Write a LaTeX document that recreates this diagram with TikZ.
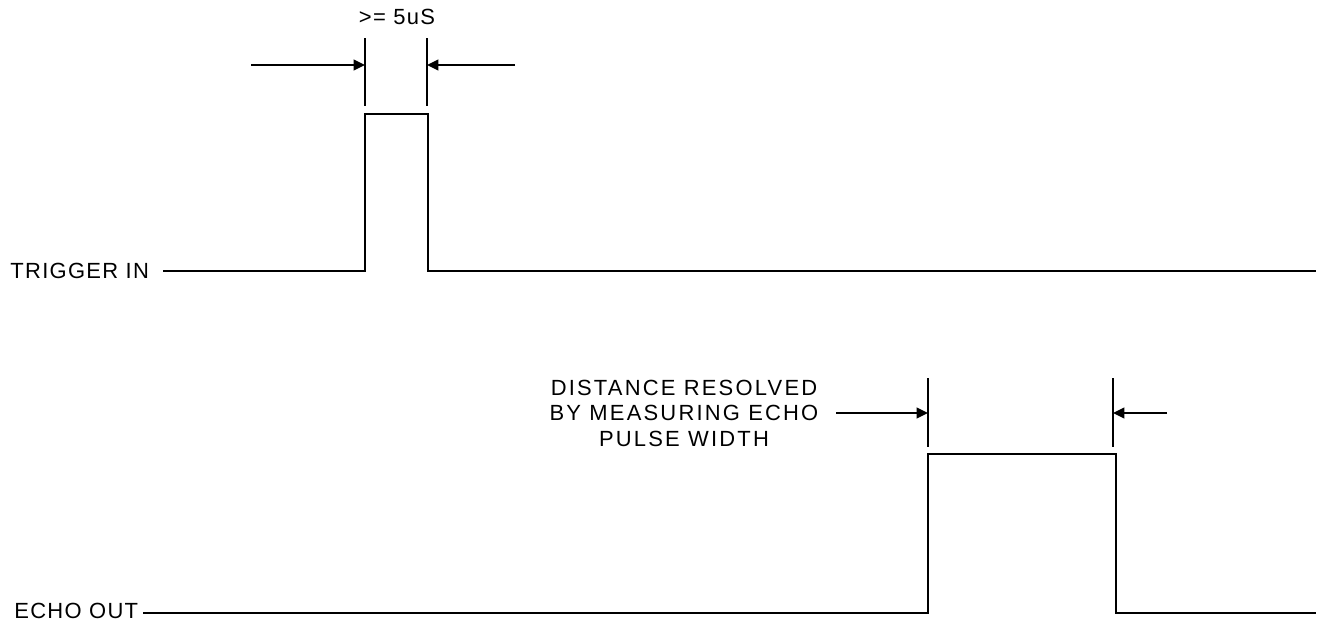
\documentclass[tikz,border=0pt]{standalone}
\usepackage{fontspec}
\setmainfont{Liberation Sans}
\usetikzlibrary{arrows.meta}
\begin{document}
\begin{tikzpicture}[x=0.02cm,y=-0.02cm,
  wave/.style={line width=1.3pt, line join=miter},
  ext/.style={line width=1.3pt},
  dimarrow/.style={line width=1.3pt,-{Triangle[length=6.5pt,width=6pt]}},
  lbl/.style={inner sep=0pt, font=\fontsize{12.5pt}{15.5pt}\selectfont\addfontfeatures{LetterSpace=6}},
  widelbl/.style={inner sep=0pt, font=\fontsize{12.5pt}{15.5pt}\selectfont\addfontfeatures{LetterSpace=10}},
]
\useasboundingbox (0,0) rectangle (1320,622);
% labels
\node[lbl, anchor=west] (trig) at (10,271) {TRIGGER IN};
\node[lbl, anchor=west] (echo) at (14,611) {ECHO OUT};
\node[lbl] (width) at (397,17) {>= 5uS};
\node[widelbl, align=center] (dist) at (684,413) {DISTANCE RESOLVED\\[-1pt]BY MEASURING ECHO\\[-1pt]PULSE WIDTH};
% trigger waveform
\coordinate (t0) at (163,271);
\coordinate (t1) at (365,271);
\coordinate (t2) at (365,114);
\coordinate (t3) at (428,114);
\coordinate (t4) at (428,271);
\coordinate (t5) at (1316,271);
\draw[wave] (t0) -- (t1) -- (t2) -- (t3) -- (t4) -- (t5);
% trigger dimension
\coordinate (ea1) at (365,38);
\coordinate (ea2) at (365,106);
\coordinate (eb1) at (427,38);
\coordinate (eb2) at (427,106);
\draw[ext] (ea1) -- (ea2);
\draw[ext] (eb1) -- (eb2);
\coordinate (la) at (251,65);
\coordinate (lb) at (365,65);
\coordinate (ra) at (515,65);
\coordinate (rb) at (427,65);
\draw[dimarrow] (la) -- (lb);
\draw[dimarrow] (ra) -- (rb);
% echo waveform
\coordinate (e0) at (143,613);
\coordinate (e1) at (928,613);
\coordinate (e2) at (928,454);
\coordinate (e3) at (1116,454);
\coordinate (e4) at (1116,613);
\coordinate (e5) at (1316,613);
\draw[wave] (e0) -- (e1) -- (e2) -- (e3) -- (e4) -- (e5);
% echo dimension
\coordinate (fa1) at (928,378);
\coordinate (fa2) at (928,447);
\coordinate (fb1) at (1113,378);
\coordinate (fb2) at (1113,447);
\draw[ext] (fa1) -- (fa2);
\draw[ext] (fb1) -- (fb2);
\coordinate (ga) at (836,413);
\coordinate (gb) at (928,413);
\coordinate (ha) at (1167,413);
\coordinate (hb) at (1113,413);
\draw[dimarrow] (ga) -- (gb);
\draw[dimarrow] (ha) -- (hb);
\end{tikzpicture}
\end{document}
